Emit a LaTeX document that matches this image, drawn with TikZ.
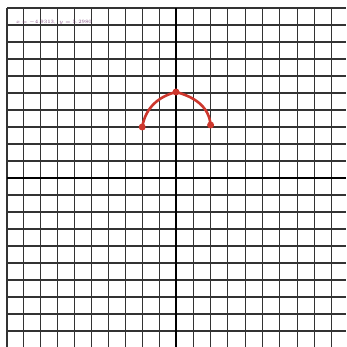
\documentclass[tikz,border=0pt]{standalone}
\definecolor{penred}{RGB}{205,55,45}
\begin{document}
\begin{tikzpicture}[x=1pt,y=1pt,
  gridline/.style={draw=black!80,line width=1.1pt},
  axisline/.style={draw=black,line width=2.4pt},
  ptdot/.style={circle,fill=penred,inner sep=0pt,minimum size=7pt},
  curve/.style={draw=penred,line width=2.6pt,line cap=round},
  lbl/.style={font=\fontsize{4}{5}\selectfont,text=violet!40!gray,inner sep=0pt,anchor=west}]
\useasboundingbox[fill=white] (0,0) rectangle (346,347);
% vertical grid lines
\foreach \x in {7,23.9,40.8,57.7,74.6,91.5,108.4,125.3,142.2,159.1,193.3,210.6,227.9,245.2,262.5,279.8,297.1,314.4,331.7}
  \draw[gridline] (\x,0) -- (\x,339);
% horizontal grid lines
\foreach \y in {16,33,50,67,84,101,118,135,152,186,203,220,237,254,271,288,305,322,339}
  \draw[gridline] (7,\y) -- (346,\y);
% axes
\draw[axisline] (176,0) -- (176,339);
\draw[axisline] (7,169) -- (346,169);
% label
\node[lbl] (info) at (16,325) {$x=-4.9313$, \ $y=5.2980$};
% points and curve
\node[ptdot] (L) at (142.2,220) {};
\node[ptdot] (T) at (176,255) {};
\node[ptdot] (R) at (210.6,222) {};
\draw[curve] (L.center) to[out=80,in=195] (T.center) to[out=-15,in=95] (R.center);
\end{tikzpicture}
\end{document}
